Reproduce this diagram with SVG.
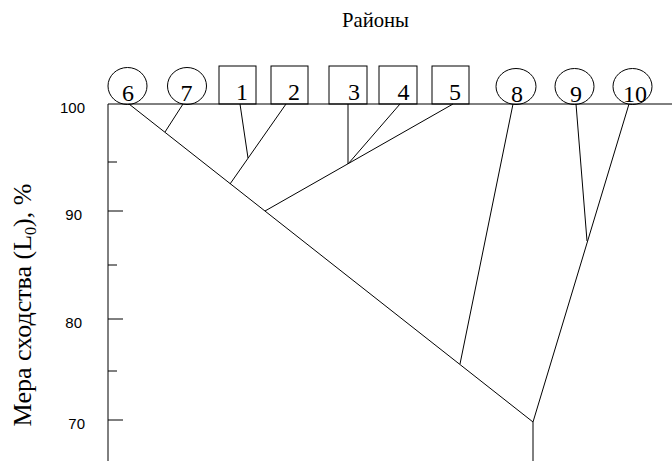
<svg xmlns="http://www.w3.org/2000/svg" width="672" height="461" viewBox="0 0 672 461">
<style>
.ln{stroke:#000;stroke-width:1;fill:none}
.nd{stroke:#000;stroke-width:1;fill:#fff}
.lb{font-size:24px;fill:#000;text-anchor:middle}
.ax{font-size:15px;fill:#000;text-anchor:end}
</style>
<rect width="672" height="461" fill="#fff"/>
<text font-family="Liberation Serif, Times New Roman, serif" x="342" y="27" font-size="21" textLength="67" lengthAdjust="spacingAndGlyphs">Районы</text>
<text font-family="Liberation Serif, Times New Roman, serif" font-size="26" text-anchor="middle" transform="translate(31,305) rotate(-90)">Мера сходства (L<tspan font-size="16" dy="5">0</tspan><tspan dy="-5">), %</tspan></text>
<g id="axis" font-family="Liberation Sans, Arial, sans-serif">
<line class="ln" x1="108" y1="104" x2="108" y2="461"/>
<line class="ln" x1="108" y1="162" x2="117" y2="162"/>
<line class="ln" x1="108" y1="211" x2="123" y2="211"/>
<line class="ln" x1="108" y1="265" x2="117" y2="265"/>
<line class="ln" x1="108" y1="319" x2="123" y2="319"/>
<line class="ln" x1="108" y1="371" x2="117" y2="371"/>
<line class="ln" x1="108" y1="420" x2="123" y2="420"/>
<text class="ax" x="85" y="113">100</text>
<text class="ax" x="82" y="220">90</text>
<text class="ax" x="82" y="328">80</text>
<text class="ax" x="85" y="429">70</text>
</g>
<g font-family="Liberation Serif, Times New Roman, serif">
<g id="n6"><ellipse class="nd" cx="127.5" cy="86" rx="19.5" ry="18.5"/><text class="lb" x="128" y="101">6</text></g>
<g id="n7"><ellipse class="nd" cx="187" cy="86" rx="19.5" ry="18.5"/><text class="lb" x="186.5" y="101">7</text></g>
<g id="n1"><rect class="nd" x="219" y="66" width="37" height="38"/><text class="lb" x="242" y="100">1</text></g>
<g id="n2"><rect class="nd" x="271" y="66" width="37" height="38"/><text class="lb" x="294" y="100">2</text></g>
<g id="n3"><rect class="nd" x="329" y="66" width="38" height="38"/><text class="lb" x="354" y="100">3</text></g>
<g id="n4"><rect class="nd" x="379" y="66" width="38" height="38"/><text class="lb" x="403.5" y="100">4</text></g>
<g id="n5"><rect class="nd" x="432" y="66" width="37" height="38"/><text class="lb" x="455" y="100">5</text></g>
<g id="n8"><ellipse class="nd" cx="516" cy="86.5" rx="20" ry="18"/><text class="lb" x="517" y="102">8</text></g>
<g id="n9"><ellipse class="nd" cx="574.5" cy="86.5" rx="19.5" ry="18"/><text class="lb" x="576" y="102">9</text></g>
<g id="n10"><ellipse class="nd" cx="632.5" cy="86.5" rx="19.5" ry="18"/><text class="lb" x="635" y="102">10</text></g>
</g>
<g id="connectors">
<line class="ln" x1="108" y1="104" x2="672" y2="104"/>
<line class="ln" x1="129" y1="104" x2="533" y2="422"/>
<line class="ln" x1="183" y1="104" x2="165" y2="132"/>
<line class="ln" x1="240" y1="104" x2="248" y2="158"/>
<line class="ln" x1="286" y1="104" x2="230" y2="184"/>
<line class="ln" x1="348" y1="104" x2="348" y2="164"/>
<line class="ln" x1="400" y1="104" x2="348" y2="164"/>
<line class="ln" x1="453" y1="104" x2="265" y2="211"/>
<line class="ln" x1="513" y1="104" x2="460" y2="364"/>
<line class="ln" x1="576" y1="104" x2="587" y2="241"/>
<line class="ln" x1="629" y1="104" x2="533" y2="422"/>
<line class="ln" x1="533" y1="422" x2="533" y2="461"/>
</g>
</svg>
